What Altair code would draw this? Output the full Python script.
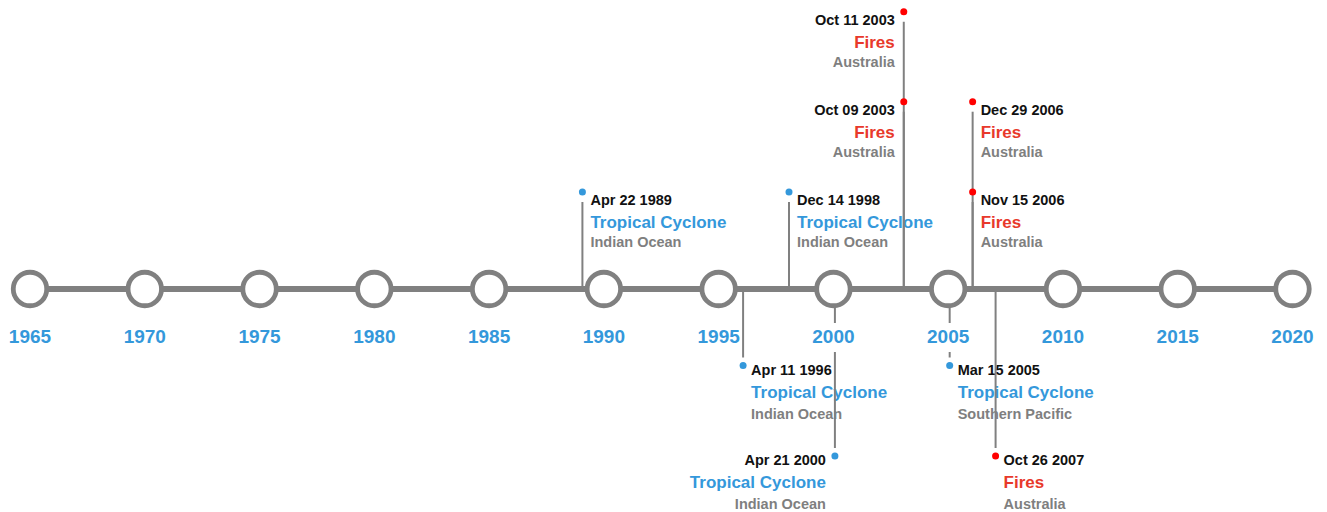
import altair as alt
import pandas as pd

# ---- data ----
axis_years = [1965, 1970, 1975, 1980, 1985, 1990, 1995, 2000, 2005, 2010, 2015, 2020]
axis_labels = [str(y) for y in axis_years]

event_dates = ["Apr 22 1989", "Apr 11 1996", "Dec 14 1998", "Apr 21 2000", "Oct 09 2003",
               "Oct 11 2003", "Mar 15 2005", "Nov 15 2006", "Dec 29 2006", "Oct 26 2007"]
event_years = [1989, 1996, 1998, 2000, 2003, 2003, 2005, 2006, 2006, 2007]
event_types = ["Tropical Cyclone", "Tropical Cyclone", "Tropical Cyclone", "Tropical Cyclone", "Fires",
               "Fires", "Tropical Cyclone", "Fires", "Fires", "Fires"]
event_locations = ["Indian Ocean", "Indian Ocean", "Indian Ocean", "Indian Ocean", "Australia",
                   "Australia", "Southern Pacific", "Australia", "Australia", "Australia"]
event_levels = [1, -1, 1, -2, 2, 3, -1, 1, 2, -2]
event_sides = ["right", "right", "right", "left", "left", "left", "right", "right", "right", "right"]

# ---- styles ----
BLUE = "#3498db"
RED_TEXT = "#e8392b"
RED_DOT = "#ff0000"
GRAY = "#808080"
LOC_GRAY = "#7f7f7f"
FONT = "Liberation Sans"
EV_SHIFT = 1.5

events = pd.DataFrame({
    "date": event_dates, "year": event_years, "type": event_types,
    "location": event_locations, "level": event_levels, "side": event_sides,
})
events["base"] = 0
axis_df = pd.DataFrame({"year": axis_years, "label": axis_labels})
axis_df["base"] = 0
line_df = pd.DataFrame({"start": [axis_years[0]], "end": [axis_years[-1]], "base": [0]})

x_scale = alt.Scale(domain=[1965, 2020], range=[22, 1284.5], nice=False, zero=False)
y_scale = alt.Scale(domain=[-2, -1, 0, 1, 2, 3], range=[448, 357.5, 281, 184, 93.7, 3.7],
                    nice=False, zero=False)

X = lambda f: alt.X(f, type="quantitative", scale=x_scale, axis=None)
Y = lambda f: alt.Y(f, type="quantitative", scale=y_scale, axis=None)

text_color = alt.condition("datum.type == 'Fires'", alt.value(RED_TEXT), alt.value(BLUE))
dot_color = alt.condition("datum.type == 'Fires'", alt.value(RED_DOT), alt.value(BLUE))

base_ev = alt.Chart(events)

layers = []

# event texts
for above in (True, False):
    for side in ("right", "left"):
        cond = f"datum.level {'>' if above else '<'} 0 && datum.side == '{side}'"
        align = "left" if side == "right" else "right"
        dx = 8 if side == "right" else -9
        offs = (9, 31, 51) if above else (5, 27, 49)
        src = base_ev.transform_filter(cond)
        layers.append(src.mark_text(align=align, baseline="middle", dx=dx, dy=offs[0], xOffset=EV_SHIFT,
                                    font=FONT, fontWeight="bold", fontSize=14.5, color="#111111")
                      .encode(x=X("year"), y=Y("level"), text="date:N"))
        layers.append(src.mark_text(align=align, baseline="middle", dx=dx, dy=offs[1], xOffset=EV_SHIFT,
                                    font=FONT, fontWeight="bold", fontSize=17)
                      .encode(x=X("year"), y=Y("level"), text="type:N", color=text_color))
        layers.append(src.mark_text(align=align, baseline="middle", dx=dx, dy=offs[2], xOffset=EV_SHIFT,
                                    font=FONT, fontWeight="bold", fontSize=14.5, color=LOC_GRAY)
                      .encode(x=X("year"), y=Y("level"), text="location:N"))

# stems
layers.append(base_ev.transform_filter("datum.level > 0")
              .mark_rule(color=GRAY, strokeWidth=2, y2Offset=10, xOffset=EV_SHIFT)
              .encode(x=X("year"), y=Y("base"), y2="level"))
layers.append(base_ev.transform_filter("datum.level < 0")
              .mark_rule(color=GRAY, strokeWidth=2, y2Offset=-8, xOffset=EV_SHIFT)
              .encode(x=X("year"), y=Y("base"), y2="level"))

# timeline
layers.append(alt.Chart(line_df).mark_rule(color=GRAY, strokeWidth=6)
              .encode(x=X("start"), x2="end", y=Y("base")))

# circles
layers.append(alt.Chart(axis_df).mark_point(shape="circle", filled=False, fill="white",
                                            fillOpacity=1, stroke=GRAY, strokeWidth=4.8,
                                            size=1120, opacity=1)
              .encode(x=X("year"), y=Y("base")))

# label backgrounds
layers.append(alt.Chart(axis_df)
              .transform_calculate(x0="datum.year - 0.9", x1="datum.year + 0.9")
              .mark_rect(color="white")
              .encode(x=X("x0"), x2="x1", y=alt.value(315), y2=alt.value(344)))

# year labels
layers.append(alt.Chart(axis_df).mark_text(baseline="middle", align="center", dy=48,
                                           font=FONT, fontWeight="bold", fontSize=19, color=BLUE)
              .encode(x=X("year"), y=Y("base"), text="label:N"))

# dots
layers.append(base_ev.mark_point(shape="circle", filled=True, size=49, opacity=1, xOffset=EV_SHIFT)
              .encode(x=X("year"), y=Y("level"), color=dot_color))

chart = alt.layer(*layers).properties(
    width=1311, height=504, padding=0,
    autosize=alt.AutoSizeParams(type="none"),
).configure_view(stroke=None)

chart.save("out.html", embed_options={"renderer": "svg", "actions": False})
